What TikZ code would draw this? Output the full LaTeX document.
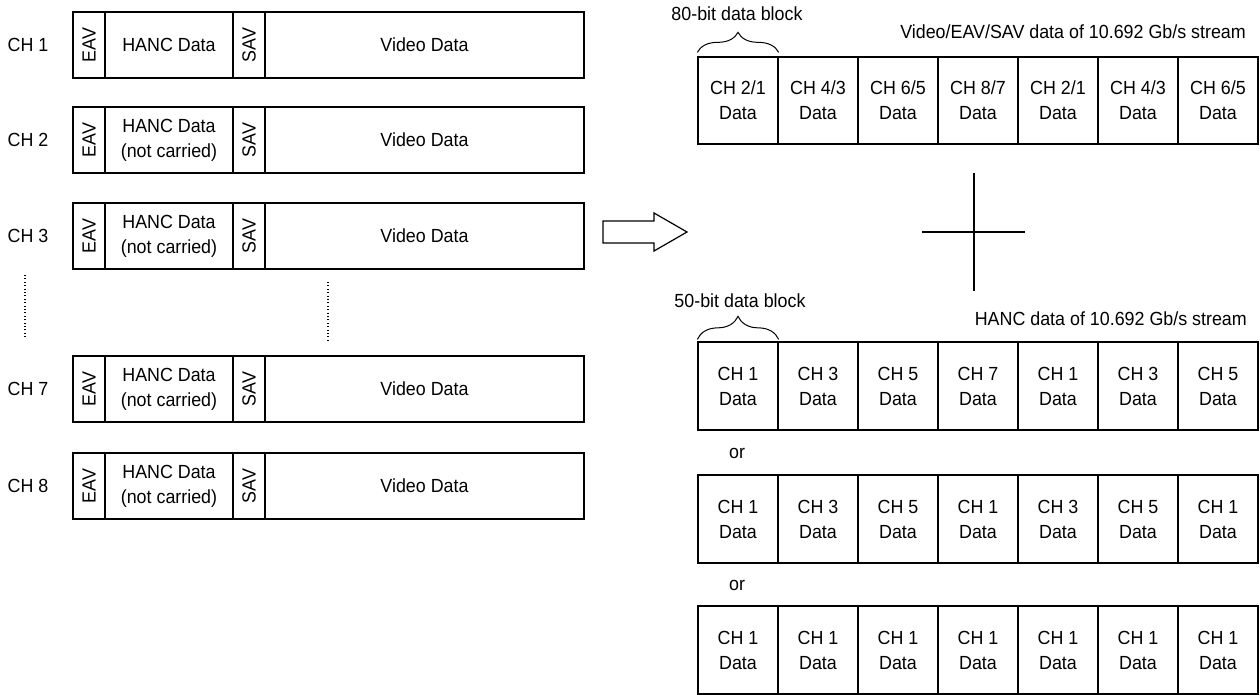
\documentclass[tikz,border=0pt]{standalone}
\usepackage{fontspec}
\setmainfont{Liberation Sans}[FakeStretch=0.94]
\usetikzlibrary{decorations.pathreplacing}
\begin{document}
\begin{tikzpicture}[x=1pt,y=-1pt,
  txt/.style={font=\fontsize{19}{25}\selectfont, inner sep=0pt, align=center},
  seg/.style={draw, line width=1.3pt, inner sep=0pt, minimum height=66pt},
  cell/.style={draw, line width=1.3pt, inner sep=0pt, minimum width=80pt,
    font=\fontsize{19}{25}\selectfont, align=center},
  bracemark/.style={decorate, line width=1pt},
  dotline/.style={line width=1.1pt, dash pattern=on 1pt off 2.4pt},
  thinline/.style={line width=1.2pt}]
\useasboundingbox (0,0) rectangle (1260,695);

% ---- left: per-channel line structure ----
\foreach \ch/\y/\hanc in {1/45/{HANC Data},
                          2/140/{HANC Data\\(not carried)},
                          3/236/{HANC Data\\(not carried)},
                          7/389/{HANC Data\\(not carried)},
                          8/486/{HANC Data\\(not carried)}}{
  \node[txt] (lab\ch) at (28,\y) {CH \ch};
  \node[seg, minimum width=32pt]  (eav\ch)  at (89,\y) {};
  \node[txt, rotate=90] at (eav\ch) {EAV};
  \node[seg, minimum width=128pt, txt, draw, line width=1.3pt, minimum height=66pt] (hanc\ch) at (169,\y) {\hanc};
  \node[seg, minimum width=32pt]  (sav\ch)  at (249,\y) {};
  \node[txt, rotate=90] at (sav\ch) {SAV};
  \node[seg, minimum width=319pt, txt, draw, line width=1.3pt, minimum height=66pt] (vid\ch) at (424.5,\y) {Video Data};
}

% elided channels
\draw[dotline] (25,275) -- (25,338);
\draw[dotline] (328,282) -- (328,340);

% ---- hollow arrow ----
\draw[thinline, line join=miter] (603,221) -- (654,221) -- (654,213) -- (687,232)
  -- (654,251) -- (654,243) -- (603,243) -- cycle;

% ---- cross between the two streams ----
\draw[thinline] (974,173) -- (974,291);
\draw[thinline] (922,232) -- (1025,232);

% ---- Video/EAV/SAV stream ----
\node[txt, anchor=base east] (vtitle) at (1246,38.5) {Video/EAV/SAV data of 10.692 Gb/s stream};
\foreach \a/\b [count=\i] in {2/1,4/3,6/5,8/7,2/1,4/3,6/5}{
  \node[cell, minimum height=87pt] (v\i) at ({698+80*(\i-0.5)},100.5) {CH \a/\b\\Data};
}
\draw[bracemark, decoration={brace, amplitude=20pt}]
  ([yshift=4pt]v1.north west) -- ([yshift=4pt]v1.north east);
\node[txt, anchor=base] (vblock) at (737,21) {80-bit data block};

% ---- HANC stream ----
\node[txt, anchor=base east] (htitle) at (1247,325) {HANC data of 10.692 Gb/s stream};
\foreach \c [count=\i] in {1,3,5,7,1,3,5}{
  \node[cell, minimum height=88pt] (ha\i) at ({698+80*(\i-0.5)},386) {CH \c\\Data};
}
\foreach \c [count=\i] in {1,3,5,1,3,5,1}{
  \node[cell, minimum height=88pt] (hb\i) at ({698+80*(\i-0.5)},519) {CH \c\\Data};
}
\foreach \c [count=\i] in {1,1,1,1,1,1,1}{
  \node[cell, minimum height=88pt] (hc\i) at ({698+80*(\i-0.5)},650) {CH \c\\Data};
}
\draw[bracemark, decoration={brace, amplitude=23pt}]
  ([yshift=2pt]ha1.north west) -- ([yshift=2pt]ha1.north east);
\node[txt, anchor=base] (hblock) at (740,307) {50-bit data block};
\node[txt, anchor=base] (or1) at (737,458) {or};
\node[txt, anchor=base] (or2) at (737,590) {or};
\end{tikzpicture}
\end{document}
